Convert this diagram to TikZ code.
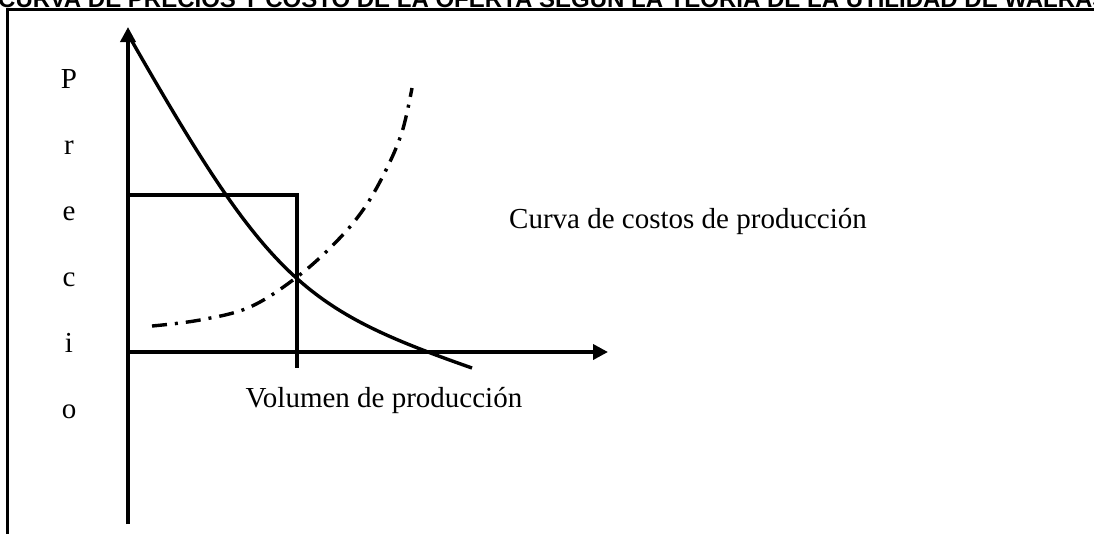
\documentclass[tikz,border=0pt]{standalone}
\usepackage{fontspec}
\setmainfont{Liberation Serif}
\newfontfamily\titulofont{Liberation Sans}
\usetikzlibrary{arrows.meta}

\begin{document}
\begin{tikzpicture}[x=1pt,y=-1pt,
	texto/.style={anchor=base,inner sep=0pt,font=\fontsize{29}{34}\selectfont},
	eje/.style={line width=3.6pt,-{Triangle[width=15pt,length=15pt]}},
	curva/.style={line width=3.4pt}]
	\useasboundingbox (0,0) rectangle (1094,533);
	% titulo (cortado arriba)
	\node[anchor=base west,inner sep=0pt,font=\titulofont\bfseries\fontsize{24}{28}\selectfont] (titulo) at (-2,7)
		{CURVA DE PRECIOS Y COSTO DE LA OFERTA SEG\'UN LA TEOR\'IA DE LA UTILIDAD DE WALRAS};
	\draw[line width=2.8pt] (7.5,540) -- (7.5,9.5) -- (1100,9.5);

	\coordinate (O) at (128,352);
	\coordinate (ytop) at (128,27);
	\coordinate (ybot) at (128,524);
	\coordinate (xend) at (608,352);
	\draw[eje] (ybot) -- (ytop);
	\draw[eje] (O) -- (xend);

	% precio y cantidad de equilibrio
	\draw[line width=3.2pt] (O |- 0,195) -- (297,195) -- (297,368);

	% curva de precios
	\draw[curva] (129,36) .. controls (269,281) and (302.5,308.5) .. (472,368);
	% curva de costos
	\draw[curva,dash pattern=on 15pt off 8pt on 3pt off 8pt] plot[smooth,tension=0.6] coordinates
		{(152,326) (200,320) (250,307) (297,277) (335,243) (363,210) (385,172) (402,132) (412,88)};

	\foreach \l [count=\i] in {P,r,e,c,i,o}
		\node[texto] (precio\i) at (69,{88+66*(\i-1)}) {\l};
	\node[texto] (costos) at (688,228) {Curva de costos de producci\'on};
	\node[texto] (volumen) at (384,407) {Volumen de producci\'on};
\end{tikzpicture}
\end{document}
